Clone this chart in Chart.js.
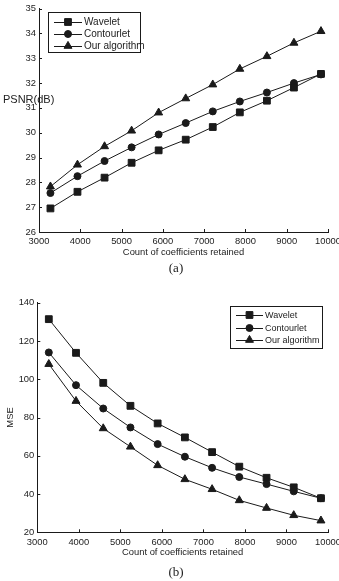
<!DOCTYPE html>
<html>
<head>
<meta charset="utf-8">
<script src="https://cdn.jsdelivr.net/npm/chart.js@4/dist/chart.umd.min.js"></script>
<style>
  body { margin: 0; background: #fff; }
  #page { position: relative; width: 339px; height: 581px; overflow: hidden; background: #fff; }
  canvas { position: absolute; left: 0; }
  .cap { position: absolute; width: 60px; left: 146px; text-align: center;
         font-family: "Liberation Serif", "DejaVu Serif", serif; font-size: 13px; color: #222; }
</style>
</head>
<body>
<div id="page">
  <canvas id="psnrChart" width="350" height="262" style="top:0px"></canvas>
  <div class="cap" style="top:260px">(a)</div>
  <canvas id="mseChart" width="350" height="272" style="top:290px"></canvas>
  <div class="cap" style="top:564px">(b)</div>
</div>
<script>
// x values: number of coefficients kept (5% .. 15% of 256x256)
const coeffCounts = [3277, 3932, 4588, 5243, 5898, 6554, 7209, 7864, 8520, 9175, 9830];

const psnrWavelet    = [26.95, 27.62, 28.19, 28.79, 29.29, 29.72, 30.23, 30.82, 31.29, 31.82, 32.37];
const psnrContourlet = [27.57, 28.25, 28.86, 29.41, 29.93, 30.39, 30.86, 31.26, 31.62, 32.00, 32.35];
const psnrOurs       = [27.83, 28.71, 29.45, 30.08, 30.81, 31.38, 31.94, 32.57, 33.08, 33.62, 34.09];

const mseWavelet    = [131.4, 113.8, 98.1, 86.1, 76.9, 69.6, 61.9, 54.3, 48.5, 43.5, 37.8];
const mseContourlet = [114.0, 96.9, 84.7, 74.8, 66.1, 59.5, 53.7, 48.9, 45.2, 41.4, 37.8];
const mseOurs       = [107.9, 88.6, 74.3, 64.7, 55.0, 47.7, 42.5, 36.7, 32.7, 28.9, 26.1];

const seriesNames = ['Wavelet', 'Contourlet', 'Our algorithm'];
const xTicks = [3000, 4000, 5000, 6000, 7000, 8000, 9000, 10000];
const psnrTicks = [26, 27, 28, 29, 30, 31, 32, 33, 34, 35];
const mseTicks = [20, 40, 60, 80, 100, 120, 140];

const FONT = '"Liberation Sans", Arial, sans-serif';
const INK = '#1a1a1a';
const markers = [
  { pointStyle: 'rect', pointRadius: 4.8 },
  { pointStyle: 'circle', pointRadius: 3.5 },
  { pointStyle: 'triangle', pointRadius: 4.6 }
];

function makeDatasets(lists) {
  return lists.map((vals, i) => ({
    label: seriesNames[i],
    data: coeffCounts.map((c, j) => ({ x: c, y: vals[j] })),
    borderColor: INK,
    backgroundColor: INK,
    borderWidth: 1,
    pointBorderWidth: 1,
    pointBorderColor: INK,
    pointBackgroundColor: INK,
    pointStyle: markers[i].pointStyle,
    pointRadius: markers[i].pointRadius,
    tension: 0,
    fill: false
  }));
}

// ticks pointing into the plot, like the original figure
const innerTicks = {
  id: 'innerTicks',
  afterDraw(chart) {
    const ctx = chart.ctx;
    const { x, y } = chart.scales;
    ctx.save();
    ctx.strokeStyle = INK;
    ctx.lineWidth = 1;
    ctx.beginPath();
    x.ticks.forEach(t => {
      const px = Math.round(x.getPixelForValue(t.value)) + 0.5;
      ctx.moveTo(px, x.top);
      ctx.lineTo(px, x.top - 3);
    });
    y.ticks.forEach(t => {
      const py = Math.round(y.getPixelForValue(t.value)) + 0.5;
      ctx.moveTo(y.right, py);
      ctx.lineTo(y.right + 3, py);
    });
    ctx.stroke();
    ctx.restore();
  }
};

// boxed legend sitting inside the plot
const boxLegend = {
  id: 'boxLegend',
  afterDraw(chart, args, opts) {
    if (!opts || !opts.box) return;
    const ctx = chart.ctx;
    const b = opts.box;
    ctx.save();
    ctx.strokeStyle = INK;
    ctx.lineWidth = 1;
    ctx.strokeRect(b.x + 0.5, b.y + 0.5, b.w, b.h);
    ctx.font = opts.size + 'px ' + FONT;
    ctx.textBaseline = 'middle';
    chart.data.datasets.forEach((ds, i) => {
      const ry = opts.rows[i];
      ctx.beginPath();
      ctx.moveTo(opts.lineX0, ry + 0.5);
      ctx.lineTo(opts.lineX1, ry + 0.5);
      ctx.stroke();
      ctx.fillStyle = INK;
      const mx = (opts.lineX0 + opts.lineX1) / 2;
      if (Chart.helpers && Chart.helpers.drawPoint) {
        Chart.helpers.drawPoint(ctx, { pointStyle: ds.pointStyle, radius: ds.pointRadius, rotation: 0, borderWidth: 1 }, mx, ry);
      }
      ctx.fillStyle = '#222';
      ctx.fillText(ds.label, opts.textX, ry + 0.5);
    });
    ctx.restore();
  }
};

// free-standing text (horizontal y label in panel a)
const freeText = {
  id: 'freeText',
  afterDraw(chart, args, opts) {
    if (!opts || !opts.text) return;
    const ctx = chart.ctx;
    ctx.save();
    ctx.font = opts.size + 'px ' + FONT;
    ctx.fillStyle = '#222';
    ctx.textBaseline = 'middle';
    ctx.fillText(opts.text, opts.x, opts.y);
    ctx.restore();
  }
};

function makeOptions(cfg) {
  return {
    responsive: false,
    animation: false,
    layout: { padding: { top: cfg.padTop, right: 22, left: 0, bottom: 0 } },
    plugins: {
      legend: { display: false },
      tooltip: { enabled: false },
      boxLegend: cfg.legend,
      freeText: cfg.freeText || {}
    },
    scales: {
      x: {
        type: 'linear',
        min: 3000, max: 10000,
        afterBuildTicks: s => { s.ticks = xTicks.map(v => ({ value: v })); },
        afterFit: s => { s.height = cfg.xHeight; },
        grid: { display: false, drawTicks: false },
        border: { display: true, color: INK, width: 1 },
        ticks: { color: '#222', font: { family: FONT, size: 9.4 }, padding: 4, maxRotation: 0,
                 callback: v => String(v) },
        title: { display: true, text: 'Count of coefficients retained', color: '#222',
                 font: { family: FONT, size: 9.4 }, padding: { top: 0, bottom: 4 } }
      },
      y: {
        type: 'linear',
        min: cfg.yTicks[0], max: cfg.yTicks[cfg.yTicks.length - 1],
        afterBuildTicks: s => { s.ticks = cfg.yTicks.map(v => ({ value: v })); },
        afterFit: s => { s.width = cfg.yWidth; },
        grid: { display: false, drawTicks: false },
        border: { display: true, color: INK, width: 1 },
        ticks: { color: '#222', font: { family: FONT, size: 9.4 }, padding: 3 },
        title: cfg.yTitle
      }
    }
  };
}

new Chart(document.getElementById('psnrChart'), {
  type: 'line',
  data: { datasets: makeDatasets([psnrWavelet, psnrContourlet, psnrOurs]) },
  options: makeOptions({
    padTop: 6, xHeight: 30, yWidth: 39, yTicks: psnrTicks,
    yTitle: { display: false },
    legend: { box: { x: 48, y: 12, w: 92, h: 40 }, rows: [22, 34, 46], lineX0: 54, lineX1: 82, textX: 84, size: 10 },
    freeText: { text: 'PSNR(dB)', x: 3, y: 100, size: 11 }
  }),
  plugins: [innerTicks, boxLegend, freeText]
});

new Chart(document.getElementById('mseChart'), {
  type: 'line',
  data: { datasets: makeDatasets([mseWavelet, mseContourlet, mseOurs]) },
  options: makeOptions({
    padTop: 12.7, xHeight: 29.7, yWidth: 37.3, yTicks: mseTicks,
    yTitle: { display: true, text: 'MSE', color: '#222', font: { family: FONT, size: 9.4 }, padding: { top: 5, bottom: 0 } },
    legend: { box: { x: 230, y: 16, w: 92, h: 42 }, rows: [25, 38, 50], lineX0: 236, lineX1: 263, textX: 265, size: 9 }
  }),
  plugins: [innerTicks, boxLegend, freeText]
});
</script>
</body>
</html>
